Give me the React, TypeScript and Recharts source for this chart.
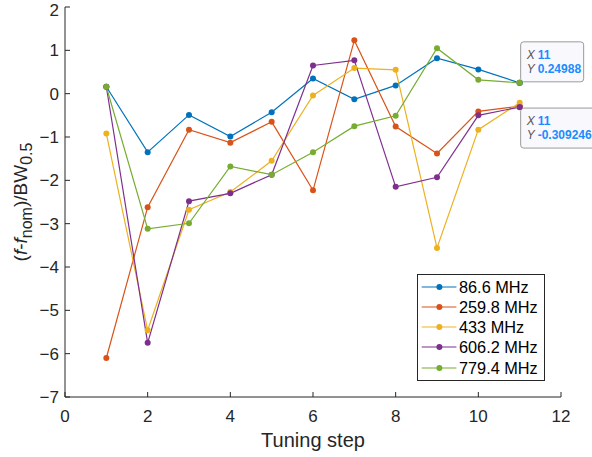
import React from "react"
import { LineChart, Line, XAxis, YAxis, ReferenceDot, Legend } from "recharts"

const steps = [1, 2, 3, 4, 5, 6, 7, 8, 9, 10, 11]
const xTicks = [0, 2, 4, 6, 8, 10, 12]
const yTicks = [-7, -6, -5, -4, -3, -2, -1, 0, 1, 2]

const mhz866 = [0.16, -1.35, -0.49, -0.99, -0.43, 0.35, -0.13, 0.19, 0.82, 0.56, 0.24988]
const mhz2598 = [-6.1, -2.62, -0.83, -1.13, -0.65, -2.23, 1.23, -0.76, -1.38, -0.41, -0.29]
const mhz433 = [-0.92, -5.46, -2.68, -2.27, -1.55, -0.04, 0.59, 0.55, -3.56, -0.83, -0.21]
const mhz6062 = [0.16, -5.75, -2.48, -2.3, -1.87, 0.65, 0.77, -2.15, -1.93, -0.5, -0.309246]
const mhz7794 = [0.16, -3.12, -2.99, -1.68, -1.87, -1.35, -0.75, -0.51, 1.05, 0.32, 0.24988]

const seriesNames = ["86.6 MHz", "259.8 MHz", "433 MHz", "606.2 MHz", "779.4 MHz"]
const seriesColors = ["#0072BD", "#D95319", "#EDB120", "#7E2F8E", "#77AC30"]
const seriesValues = [mhz866, mhz2598, mhz433, mhz6062, mhz7794]

// data tips: [x, y, side]
const tips: [number, number, "up" | "down"][] = [
  [11, 0.24988, "up"],
  [11, -0.309246, "down"],
]

const data = steps.map((step, i) => {
  const row: Record<string, number> = { step }
  seriesValues.forEach((vals, k) => {
    row["s" + k] = vals[i]
  })
  return row
})

const axisColor = "#262626"
const font = '"Liberation Sans", Arial, sans-serif'

const fmt = (v: number) => (v < 0 ? "\u2212" + Math.abs(v) : String(v))

function BottomTick({ x, y, payload }: any) {
  return (
    <g>
      <line x1={x} x2={x} y1={y} y2={y - 5} stroke={axisColor} />
      <text x={x} y={y + 13} dy="0.71em" textAnchor="middle" fontSize={17} fill={axisColor} fontFamily={font}>
        {fmt(payload.value)}
      </text>
    </g>
  )
}

function TopTick({ x, y }: any) {
  return <line x1={x} x2={x} y1={y} y2={y + 5} stroke={axisColor} />
}

function LeftTick({ x, y, payload }: any) {
  return (
    <g>
      <line x1={x} x2={x + 5} y1={y} y2={y} stroke={axisColor} />
      <text x={x - 6} y={Math.max(y, 9.5)} dy="0.355em" textAnchor="end" fontSize={17} fill={axisColor} fontFamily={font}>
        {fmt(payload.value)}
      </text>
    </g>
  )
}

function RightTick({ x, y }: any) {
  return <line x1={x} x2={x - 5} y1={y} y2={y} stroke={axisColor} />
}

function XLabel({ viewBox }: any) {
  return (
    <text x={viewBox.x + viewBox.width / 2} y={viewBox.y + 50} textAnchor="middle" fontSize={20} fill={axisColor} fontFamily={font}>
      Tuning step
    </text>
  )
}

function YLabel({ viewBox }: any) {
  const cx = viewBox.x + 20
  const cy = viewBox.y + viewBox.height / 2
  return (
    <text x={cx} y={cy} transform={`rotate(-90 ${cx} ${cy})`} textAnchor="middle" fontSize={19} fill={axisColor} fontFamily={font}>
      (<tspan fontStyle="italic">f</tspan>-<tspan fontStyle="italic">f</tspan>
      <tspan dy={5} fontSize={16}>nom</tspan>
      <tspan dy={-5}>)/BW</tspan>
      <tspan dy={5} fontSize={16}>0.5</tspan>
    </text>
  )
}

function TipShape({ cx, cy, dir, value, xv }: any) {
  const w = dir === "up" ? 63 : 80
  const h = 40
  const bx = cx + 1
  const by = dir === "up" ? cy - 1 - h : cy + 1
  return (
    <g fontFamily={font}>
      <rect x={bx} y={by} width={w} height={h} rx={3} fill="#f9f9fd" stroke="#9a9a9a" strokeWidth={1} />
      <text x={bx + 6} y={by + 17} fontSize={12}>
        <tspan fontStyle="italic" fill="#555">X</tspan>
        <tspan dx={3} fill="#1a8cff" fontWeight="bold">{xv}</tspan>
      </text>
      <text x={bx + 6} y={by + 31} fontSize={12}>
        <tspan fontStyle="italic" fill="#555">Y</tspan>
        <tspan dx={3} fill="#1a8cff" fontWeight="bold">{value < 0 ? "-" + Math.abs(value) : value}</tspan>
      </text>
      <circle cx={cx} cy={cy} r={3.2} fill="#111" stroke="#fff" strokeWidth={0.6} />
    </g>
  )
}

function LegendBox({ payload }: any) {
  const items = [...(payload || [])].sort(
    (a: any, b: any) => seriesNames.indexOf(a.value) - seriesNames.indexOf(b.value),
  )
  return (
    <div
      style={{
        width: 128,
        height: 107,
        border: `1px solid ${axisColor}`,
        background: "#fff",
        boxSizing: "border-box",
        paddingTop: 1.5,
      }}
    >
      {items.map((p: any) => (
        <div key={p.value} style={{ display: "flex", alignItems: "center", height: 20.25 }}>
          <svg width={41} height={20} style={{ display: "block" }}>
            <line x1={3.7} x2={38.4} y1={10} y2={10} stroke={p.color} strokeWidth={1.2} />
            <circle cx={21.4} cy={10} r={3} fill={p.color} />
          </svg>
          <span style={{ fontFamily: font, fontSize: 16.3, color: "#000", lineHeight: "20px" }}>{p.value}</span>
        </div>
      ))}
    </div>
  )
}

export default function App() {
  return (
    <div style={{ position: "absolute", left: 0, top: 0, background: "#fff" }}>
      <LineChart width={592} height={457} data={data} margin={{ top: 7, right: 31, bottom: 0, left: 7 }}>
        <XAxis
          dataKey="step"
          type="number"
          domain={[0, 12]}
          ticks={xTicks}
          height={60}
          tickSize={0}
          tickMargin={0}
          tickLine={false}
          axisLine={{ stroke: axisColor }}
          tick={<BottomTick />}
          label={<XLabel />}
          interval={0}
        />
        <XAxis
          xAxisId="top"
          orientation="top"
          dataKey="step"
          type="number"
          domain={[0, 12]}
          ticks={xTicks}
          height={0}
          tickSize={0}
          tickMargin={0}
          tickLine={false}
          axisLine={{ stroke: axisColor }}
          tick={<TopTick />}
          interval={0}
        />
        <YAxis
          type="number"
          domain={[-7, 2]}
          ticks={yTicks}
          width={58}
          tickSize={0}
          tickMargin={0}
          tickLine={false}
          axisLine={{ stroke: axisColor }}
          tick={<LeftTick />}
          label={<YLabel />}
          interval={0}
        />
        <YAxis
          yAxisId="right"
          orientation="right"
          type="number"
          domain={[-7, 2]}
          ticks={yTicks}
          width={0}
          tickSize={0}
          tickMargin={0}
          tickLine={false}
          axisLine={{ stroke: axisColor }}
          tick={<RightTick />}
          interval={0}
        />
        {seriesNames.map((name, k) => (
          <Line
            key={name}
            dataKey={"s" + k}
            name={name}
            stroke={seriesColors[k]}
            strokeWidth={1.2}
            dot={{ r: 3, fill: seriesColors[k], stroke: seriesColors[k], strokeWidth: 0 }}
            activeDot={false}
            isAnimationActive={false}
          />
        ))}
        {tips.map(([x, y, dir]) => (
          <ReferenceDot
            key={dir}
            x={x}
            y={y}
            r={3}
            ifOverflow="visible"
            shape={(p: any) => <TipShape {...p} dir={dir} value={y} xv={x} />}
          />
        ))}
        <Legend
          layout="vertical"
          align="center"
          verticalAlign="middle"
          content={<LegendBox />}
          wrapperStyle={{ left: 417, top: 274, width: 128, height: 107 }}
        />
      </LineChart>
    </div>
  )
}
